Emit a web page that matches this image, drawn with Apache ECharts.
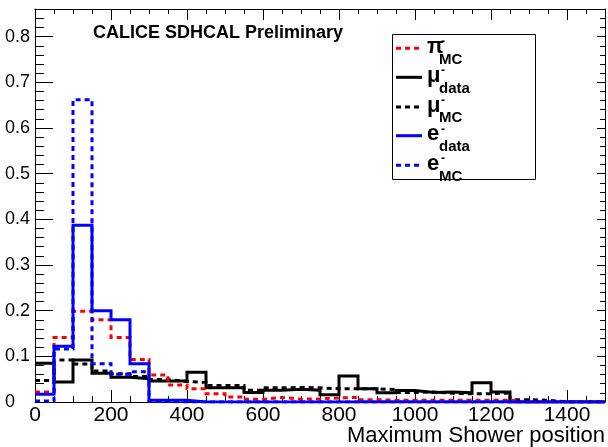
<!DOCTYPE html>
<html>
<head>
<meta charset="utf-8">
<script src="https://cdn.jsdelivr.net/npm/echarts@6/dist/echarts.min.js"></script>
<style>
  html, body { margin: 0; padding: 0; background: #fff; }
  #chart { width: 608px; height: 447px; }
</style>
</head>
<body>
<div id="chart"></div>
<script>
// histogram bins: 0..1500, width 50
var binWidth = 50;
var xMax = 1500;
var yMax = 0.8606;

var piMC   = [0.022, 0.141, 0.199, 0.180, 0.141, 0.093, 0.059, 0.037, 0.029, 0.018,
              0.011, 0.006, 0.010, 0.006, 0.007, 0.009, 0.010, 0.005, 0.004, 0.004,
              0.004, 0.004, 0.004, 0.004, 0.004, 0, 0, 0, 0, 0];
var muData = [0.085, 0.044, 0.092, 0.063, 0.054, 0.051, 0.046, 0.046, 0.065, 0.031,
              0.031, 0.021, 0.026, 0.028, 0.026, 0.016, 0.057, 0.029, 0.020, 0.025,
              0.021, 0.022, 0.020, 0.042, 0.022, 0, 0, 0, 0, 0];
var muMC   = [0.047, 0.092, 0.083, 0.068, 0.062, 0.056, 0.049, 0.045, 0.043, 0.036,
              0.036, 0.026, 0.031, 0.032, 0.031, 0.029, 0.029, 0.029, 0.027, 0.021,
              0.022, 0.019, 0.018, 0.018, 0.020, 0.005, 0.004, 0, 0, 0];
var eData  = [0.017, 0.122, 0.387, 0.200, 0.180, 0.084, 0.004, 0.004, 0, 0,
              0, 0, 0, 0, 0, 0, 0, 0, 0, 0,
              0, 0, 0, 0, 0, 0, 0, 0, 0, 0];
var eMC    = [0.002, 0.116, 0.662, 0.084, 0.061, 0.066, 0.001, 0, 0, 0,
              0, 0, 0, 0, 0, 0, 0, 0, 0, 0,
              0, 0, 0, 0, 0, 0, 0, 0, 0, 0];

var legendMain = ['\u03c0', '\u03bc', '\u03bc', 'e', 'e'];
var legendSub  = ['MC', 'data', 'MC', 'data', 'MC'];
var legendColors = ['#ff0000', '#000000', '#000000', '#0000ff', '#0000ff'];
var legendDashed = [true, false, true, false, true];

var FONT = 'Liberation Sans';
var DASH = [5, 4];

// left edges of bins + closing point at the right edge
function toSteps(vals) {
  var pts = [];
  for (var i = 0; i < vals.length; i++) {
    pts.push([i * binWidth, vals[i]]);
  }
  pts.push([vals.length * binWidth, vals[vals.length - 1]]);
  return pts;
}

function histSeries(name, vals, color, dashed) {
  return {
    name: name,
    type: 'line',
    step: 'end',
    symbol: 'none',
    silent: true,
    data: toSteps(vals),
    lineStyle: { color: color, width: 3, type: dashed ? DASH : 'solid', join: 'miter', cap: 'butt' }
  };
}

function axis(kind, pos, max, interval, tickLen, showLine, label) {
  return {
    type: 'value',
    position: pos,
    min: 0,
    max: max,
    interval: interval,
    axisLine: { show: showLine, onZero: false, lineStyle: { color: '#000', width: 1 } },
    axisTick: { show: true, inside: true, length: tickLen, lineStyle: { color: '#000', width: 1 } },
    axisLabel: label || { show: false },
    splitLine: { show: false }
  };
}

var chart = echarts.init(document.getElementById('chart'), null, { renderer: 'canvas' });

var graphics = [];
// legend box
graphics.push({
  type: 'rect', z: 100,
  shape: { x: 392.5, y: 34.5, width: 143, height: 145 },
  style: { fill: '#fff', stroke: '#000', lineWidth: 1 }
});
var rowY = [48.3, 77.3, 107, 135.7, 165.3];
for (var i = 0; i < legendMain.length; i++) {
  var ly = rowY[i];
  var base = ly + 6.3;
  graphics.push({
    type: 'line', z: 101,
    shape: { x1: 396, y1: ly, x2: 422, y2: ly },
    style: { stroke: legendColors[i], lineWidth: 3, lineDash: legendDashed[i] ? DASH : null }
  });
  graphics.push({
    type: 'text', z: 101, x: 427, y: base - 7.6,
    style: { text: legendMain[i], font: 'bold 22px "' + FONT + '"', fill: '#000', verticalAlign: 'middle' }
  });
  graphics.push({
    type: 'text', z: 101, x: 441, y: base - 12.7,
    style: { text: '-', font: 'bold 12px "' + FONT + '"', fill: '#000', verticalAlign: 'middle' }
  });
  graphics.push({
    type: 'text', z: 101, x: 439, y: base + 4.8,
    style: { text: legendSub[i], font: 'bold 15px "' + FONT + '"', fill: '#000', verticalAlign: 'middle' }
  });
}
// header text
graphics.push({
  type: 'text', z: 101, x: 93, y: 33,
  style: { text: 'CALICE SDHCAL Preliminary', font: 'bold 18px "' + FONT + '"', fill: '#000', verticalAlign: 'middle' }
});
// x axis title
graphics.push({
  type: 'text', z: 101, x: 605, y: 436,
  style: { text: 'Maximum Shower position', font: '22px "' + FONT + '"', fill: '#000', align: 'right', verticalAlign: 'middle' }
});

chart.setOption({
  animation: false,
  backgroundColor: '#fff',
  grid: { left: 35, right: 3, top: 9, bottom: 45, containLabel: false },
  xAxis: [
    axis('x', 'bottom', xMax, 200, 12, true, {
      show: true, fontSize: 21, fontFamily: FONT, color: '#000', margin: 3, showMaxLabel: false,
      formatter: function (v) { return String(v); }
    }),
    axis('x', 'bottom', xMax, 50, 6, false),
    axis('x', 'top', xMax, 200, 11, true),
    axis('x', 'top', xMax, 50, 5, false)
  ],
  yAxis: [
    axis('y', 'left', yMax, 0.1, 18, true, {
      show: true, fontSize: 18, fontFamily: FONT, color: '#000', margin: 30, align: 'left', showMaxLabel: false,
      formatter: function (v) { return String(Math.round(v * 10) / 10); }
    }),
    axis('y', 'left', yMax, 0.02, 9, false),
    axis('y', 'right', yMax, 0.1, 8, true),
    axis('y', 'right', yMax, 0.02, 5, false)
  ],
  series: [
    histSeries('mu data', muData, '#000000', false),
    histSeries('mu MC', muMC, '#000000', true),
    histSeries('pi MC', piMC, '#ff0000', true),
    histSeries('e MC', eMC, '#0000ff', true),
    histSeries('e data', eData, '#0000ff', false)
  ],
  graphic: graphics
});
</script>
</body>
</html>
